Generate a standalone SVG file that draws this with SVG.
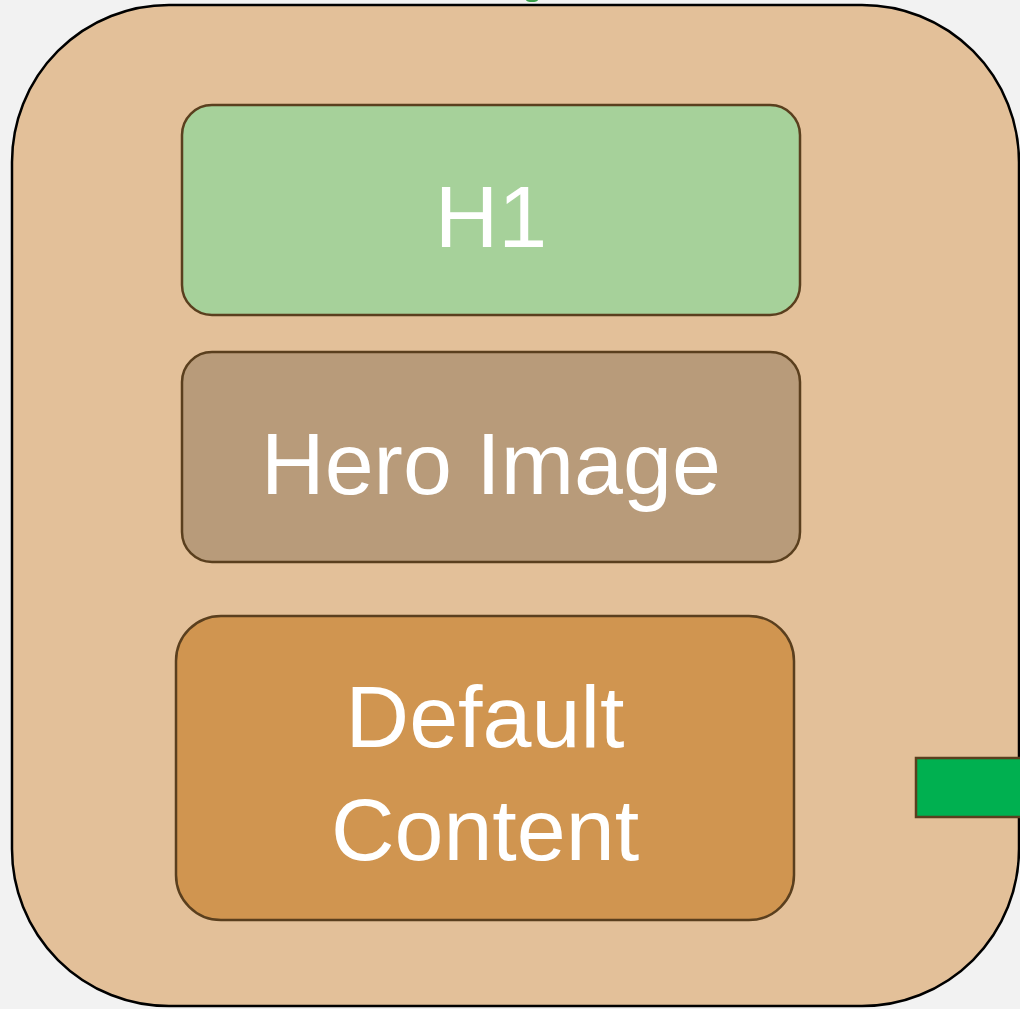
<svg xmlns="http://www.w3.org/2000/svg" width="1020" height="1009" viewBox="0 0 1020 1009">
  <style>
    .box { stroke: #5a3f1e; stroke-width: 2.5; }
    .label { font-family: "Liberation Sans", Arial, sans-serif; fill: #ffffff; text-anchor: middle; }
  </style>
  <rect x="0" y="0" width="1020" height="1009" fill="#f2f2f2"/>
  <!-- green sliver peeking above the container -->
  <ellipse cx="532" cy="0" rx="6" ry="2" fill="#3aa04a"/>
  <g id="container">
    <rect x="12" y="5" width="1007" height="1001" rx="157" ry="157" fill="#e3c099" stroke="#000000" stroke-width="2.5"/>
  </g>
  <g id="h1">
    <rect class="box" x="182" y="105" width="618" height="210" rx="30" fill="#a6d19a"/>
    <text class="label" x="491" y="247" font-size="88">H1</text>
  </g>
  <g id="hero-image">
    <rect class="box" x="182" y="352" width="618" height="210" rx="30" fill="#b89b7a"/>
    <text class="label" x="491" y="494" font-size="88">Hero Image</text>
  </g>
  <g id="default-content">
    <rect class="box" x="176" y="616" width="618" height="304" rx="45" fill="#d09550"/>
    <text class="label" x="485" y="747" font-size="88">Default</text>
    <text class="label" x="485" y="860" font-size="88">Content</text>
  </g>
  <g id="port">
    <rect x="916" y="758" width="110" height="59" fill="#00b050" stroke="#5a3f1e" stroke-width="2.5"/>
  </g>
  <g id="connectors"></g>
</svg>
